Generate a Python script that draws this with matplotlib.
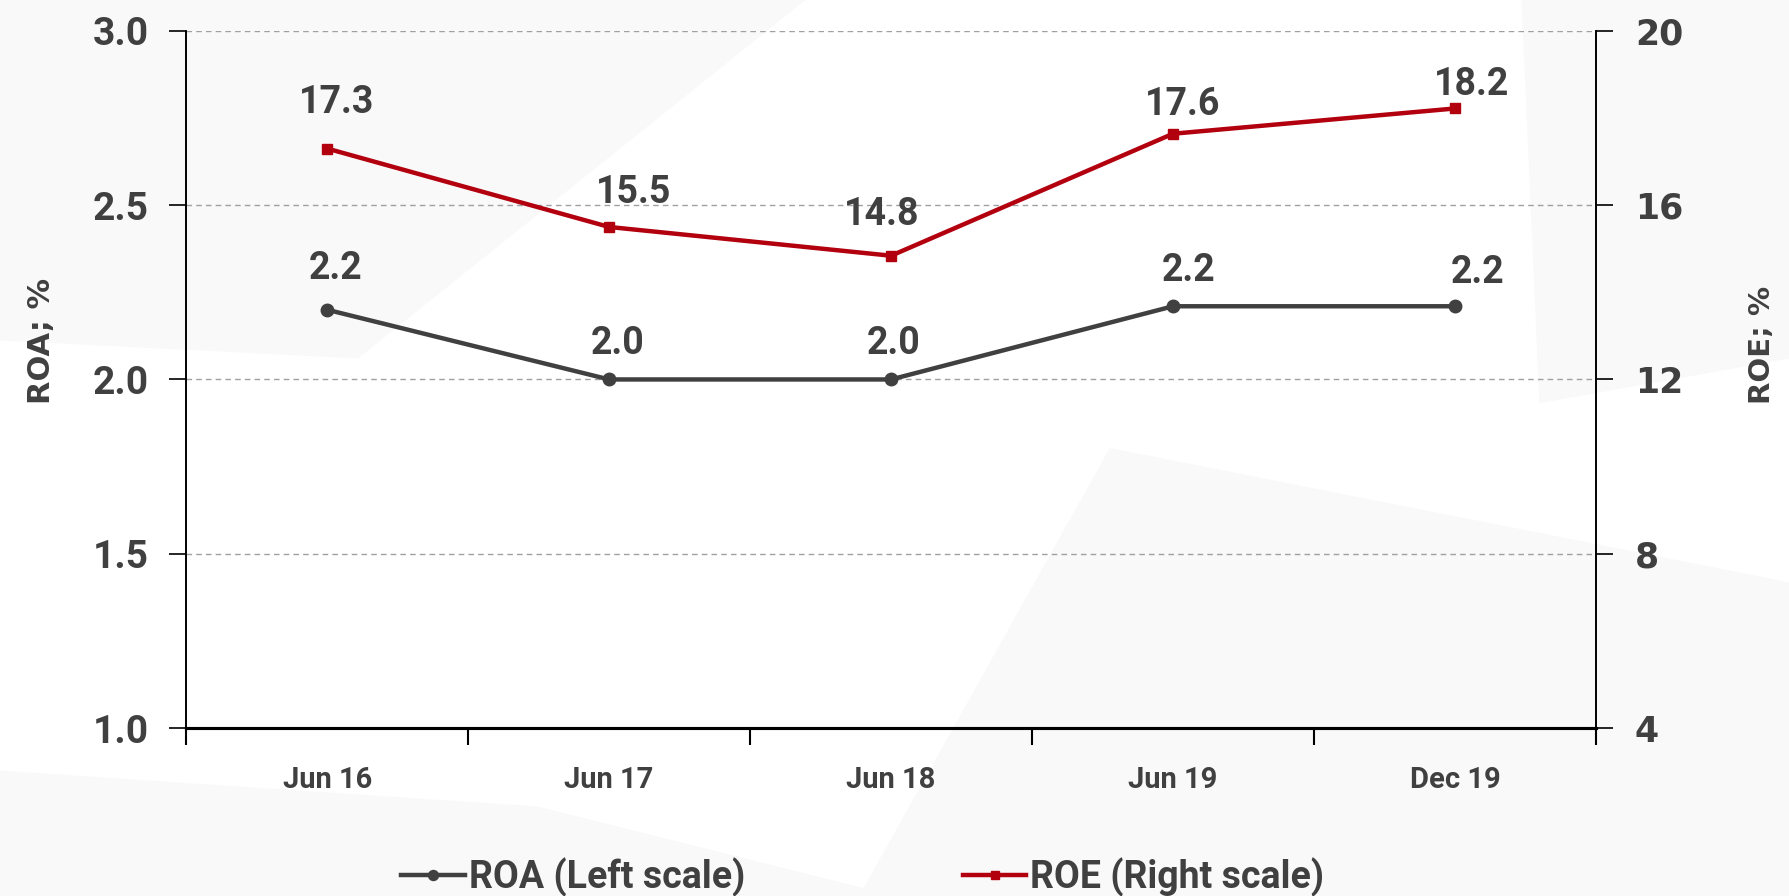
import matplotlib
matplotlib.use('Agg')

import matplotlib.pyplot as plt
from matplotlib.patches import Polygon
from matplotlib.ticker import FixedLocator, FuncFormatter

# 数据
periods = ['Jun 16', 'Jun 17', 'Jun 18', 'Jun 19', 'Dec 19']
roa = [2.20, 2.00, 2.00, 2.21, 2.21]
roe = [17.30, 15.50, 14.84, 17.64, 18.22]
roa_ticks = [1.0, 1.5, 2.0, 2.5, 3.0]
roe_ticks = [4, 8, 12, 16, 20]

# 数据标签偏移（points）
roa_label_off = [(6, 30), (6, 26), (2, 26), (11, 26), (16, 24)]
roe_label_off = [(7, 33), (18, 25), (-7, 30), (7, 21), (12, 17)]

NARROW = ['Roboto', 'DejaVu Sans']
WIDE = ['DejaVu Sans']
TEXT = '#404040'
GRAY_LINE = '#404040'
RED = '#B3000F'

plt.rcParams['font.family'] = NARROW
plt.rcParams['font.weight'] = 'bold'

fig = plt.figure(figsize=(17.9, 8.96), dpi=100)
fig.patch.set_facecolor('white')

# 背景水印（很淡）
for pts in [
    [(0.0, 1.0), (0.45, 1.0), (0.2, 0.6), (0.0, 0.62)],
    [(0.0, 0.14), (0.3, 0.1), (0.5, 0.0), (0.0, 0.0)],
    [(0.85, 1.0), (1.0, 1.0), (1.0, 0.6), (0.86, 0.55)],
    [(0.48, 0.0), (1.0, 0.0), (1.0, 0.35), (0.62, 0.5)],
]:
    fig.patches.append(Polygon(pts, closed=True, transform=fig.transFigure,
                               facecolor='#f9f9fa', edgecolor='none', zorder=-5))

ax = fig.add_axes([0.104, 0.1875, 0.7876, 0.778])
ax.set_facecolor('none')
ax2 = ax.twinx()
x = list(range(len(periods)))

ax.set_xlim(-0.5, len(periods) - 0.5)
ax.set_ylim(roa_ticks[0], roa_ticks[-1])
ax2.set_ylim(roe_ticks[0], roe_ticks[-1])

ax.yaxis.set_major_locator(FixedLocator(roa_ticks))
ax2.yaxis.set_major_locator(FixedLocator(roe_ticks))
ax.yaxis.set_major_formatter(FuncFormatter(lambda v, p: f'{v:.1f}'))
ax2.yaxis.set_major_formatter(FuncFormatter(lambda v, p: f'{v:.0f}'))

ax.xaxis.set_major_locator(FixedLocator([i - 0.5 for i in range(len(periods) + 1)]))
ax.xaxis.set_minor_locator(FixedLocator(x))
ax.set_xticklabels([])
ax.set_xticklabels(periods, minor=True)
ax.tick_params(axis='x', which='major', length=12, width=1.5, direction='out', color='black')
ax.tick_params(axis='x', which='minor', length=0, pad=27, labelsize=21, labelcolor=TEXT)

ax.tick_params(axis='y', length=12, width=1.2, color='black', pad=15,
               labelsize=28, labelcolor=TEXT)
ax2.tick_params(axis='y', length=12, width=1.2, color='black', pad=16,
                labelsize=25, labelcolor=TEXT)
for lab in ax2.get_yticklabels():
    lab.set_family(WIDE)

ax.grid(axis='y', color='#a0a0a0', linestyle=(0, (4, 3)), linewidth=1.0)
ax.set_axisbelow(True)

for a in (ax, ax2):
    a.spines['top'].set_visible(False)
    a.spines['left'].set_color('black')
    a.spines['right'].set_color('black')
    a.spines['bottom'].set_color('black')
    a.spines['left'].set_linewidth(1.2)
    a.spines['right'].set_linewidth(1.2)
    a.spines['bottom'].set_linewidth(2.2)

l1, = ax.plot(x, roa, color=GRAY_LINE, linewidth=3.2, marker='o', markersize=9,
              label='ROA (Left scale)', zorder=3)
l2, = ax2.plot(x, roe, color=RED, linewidth=3.2, marker='s', markersize=7,
               label='ROE (Right scale)', zorder=3)

for i, v in enumerate(roa):
    ax.annotate(f'{v:.1f}', (i, v), xytext=roa_label_off[i], textcoords='offset points',
                ha='center', va='center', fontsize=27, color=TEXT, fontweight='bold')
for i, v in enumerate(roe):
    ax2.annotate(f'{v:.1f}', (i, v), xytext=roe_label_off[i], textcoords='offset points',
                 ha='center', va='center', fontsize=27, color=TEXT, fontweight='bold')

ax.set_ylabel('ROA; %', fontsize=22, color=TEXT, fontweight='bold', family=WIDE)
ax.yaxis.set_label_coords(-0.092, 0.555)
ax2.set_ylabel('ROE; %', fontsize=21, color=TEXT, fontweight='bold', family=WIDE,
               rotation=90)
ax2.yaxis.set_label_coords(1.108, 0.55)

leg = fig.legend(handles=[l1, l2], loc='center', bbox_to_anchor=(0.482, 0.021),
                 ncol=2, frameon=False, fontsize=27, handlelength=1.7,
                 handletextpad=0.1, columnspacing=5.8, markerscale=0.8)
for t in leg.get_texts():
    t.set_color(TEXT)

fig.savefig('out.png', dpi=100, facecolor=fig.get_facecolor())
